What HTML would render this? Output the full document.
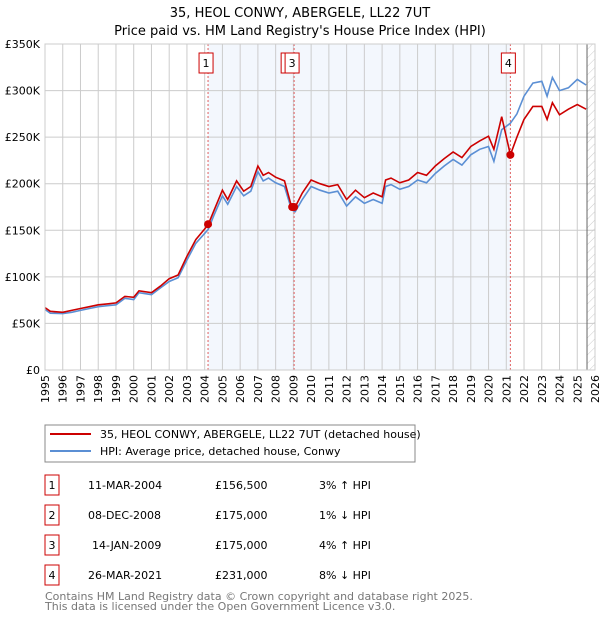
<!DOCTYPE html>
<html><head><meta charset="utf-8"><style>
body{margin:0;width:600px;height:620px;background:#fff;font-family:"DejaVu Sans","Liberation Sans",sans-serif;overflow:hidden}
svg text{font-family:"DejaVu Sans","Liberation Sans",sans-serif}
</style></head><body>
<svg id="c" width="600" height="620">
<defs><pattern id="hatch" width="6" height="6" patternUnits="userSpaceOnUse" patternTransform="rotate(45)"><line x1="0" y1="0" x2="0" y2="6" stroke="#ccc" stroke-width="1"/></pattern></defs>
<text x="300" y="17" text-anchor="middle" font-size="13">35, HEOL CONWY, ABERGELE, LL22 7UT</text>
<text x="300" y="35" text-anchor="middle" font-size="13">Price paid vs. HM Land Registry's House Price Index (HPI)</text>
<g id="plot"></g>
<rect x="45" y="425" width="370" height="37" fill="#fff" stroke="#888"/>
<line x1="50" y1="434" x2="91" y2="434" stroke="#cc0000" stroke-width="2"/>
<text x="100" y="438" font-size="11">35, HEOL CONWY, ABERGELE, LL22 7UT (detached house)</text>
<line x1="50" y1="451" x2="91" y2="451" stroke="#5b8fd4" stroke-width="2"/>
<text x="100" y="455" font-size="11">HPI: Average price, detached house, Conwy</text>
<g id="table" font-size="11"></g>
<text x="45" y="600" font-size="11" fill="#777">Contains HM Land Registry data © Crown copyright and database right 2025.</text>
<text x="45" y="610" font-size="11" fill="#777">This data is licensed under the Open Government Licence v3.0.</text>
</svg>
<script>
const years=[1995,1995.3,1996,1996.5,1997,1997.5,1998,1998.5,1999,1999.5,2000,2000.3,2001,2001.5,2002,2002.5,2003,2003.5,2004.2,2004.5,2005,2005.3,2005.8,2006.2,2006.6,2007,2007.3,2007.6,2008,2008.5,2008.9,2009.1,2009.5,2010,2010.5,2011,2011.5,2012,2012.5,2013,2013.5,2014,2014.2,2014.5,2015,2015.5,2016,2016.5,2017,2017.5,2018,2018.5,2019,2019.5,2020,2020.3,2020.74,2021.23,2021.6,2022,2022.5,2023,2023.3,2023.6,2024,2024.5,2025,2025.5];
const hpi=[65,61,60.5,62,64,66,68,69,70,77,75.6,83,81,88,95,99,118,136,151,165,187,178,197,187,192,213,203,206,201,197,172,170,183,197,193,190,192,176,186,179,183,179,197,199,194,197,204,201,211,219,226,220,231,237,240,224,258,265,275,294,308,310,294,314,300,303,312,306];
const prop=[67,63,62,64,66,68,70,71,72,79,78,85,83,90,98,102,122,140,156,170,193,183,203,192,197,219,209,212,207,203,175,175,190,204,200,197,199,183,193,185,190,186,204,206,201,204,212,209,219,227,234,228,240,246,251,237,272,231,250,269,283,283,269,287,274,280,285,280];
const saleYears=[2004.19,2008.93,2009.04,2021.23];
const salePrices=[156.5,175,175,231];
const saleLabels=["1","2","3","4"];
const yTicks=[0,50,100,150,200,250,300,350];
const xTicks=[];for(let y=1995;y<=2026;y++)xTicks.push(y);
const tDates=["11-MAR-2004","08-DEC-2008","14-JAN-2009","26-MAR-2021"];
const tPrices=["£156,500","£175,000","£175,000","£231,000"];
const tHpi=["3% ↑ HPI","1% ↓ HPI","4% ↑ HPI","8% ↓ HPI"];
const X0=45,X1=595,Y0=370,Y1=44;
const sx=y=>X0+(y-1995)*(X1-X0)/31;
const sy=v=>Y0-v*(Y0-Y1)/350;
const NS="http://www.w3.org/2000/svg";
const g=document.getElementById('plot');
function mk(t,a,p){const e=document.createElementNS(NS,t);for(const k in a)e.setAttribute(k,a[k]);(p||g).appendChild(e);return e;}
let e;
e=mk('rect',{x:sx(saleYears[0]),y:Y1,width:sx(saleYears[3])-sx(saleYears[0]),height:Y0-Y1,fill:'#eef3fc',opacity:0.7});


e=mk('rect',{x:sx(2025.55),y:Y1,width:X1-sx(2025.55),height:Y0-Y1,fill:'url(#hatch)'});


xTicks.forEach(y=>{e=mk('line',{x1:sx(y),x2:sx(y),y1:Y1,y2:Y0,stroke:'#ccc'});


e=mk('text',{x:0,y:0,'font-size':11,'text-anchor':'end',transform:`translate(${sx(y)+4},${Y0+5}) rotate(-90)`});e.textContent=y;

});
yTicks.forEach(v=>{e=mk('line',{x1:X0,x2:X1,y1:sy(v),y2:sy(v),stroke:'#ccc'});


e=mk('text',{x:40,y:sy(v)+4,'font-size':11,'text-anchor':'end'});e.textContent=v===0?'£0':'£'+v+'K';

});
e=mk('line',{x1:sx(2025.55),x2:sx(2025.55),y1:Y1,y2:Y0,stroke:'#666'});


[0,2,3].forEach(i=>{e=mk('line',{x1:sx(saleYears[i]),x2:sx(saleYears[i]),y1:Y1,y2:Y0,stroke:'#e06060','stroke-dasharray':'2,2'});

});
const pts=a=>a.map((v,i)=>sx(years[i]).toFixed(1)+','+sy(v).toFixed(1)).join(' ');
e=mk('polyline',{points:pts(hpi),fill:'none',stroke:'#5b8fd4','stroke-width':1.6});


e=mk('polyline',{points:pts(prop),fill:'none',stroke:'#cc0000','stroke-width':1.6});


saleYears.forEach((y,i)=>{e=mk('circle',{cx:sx(y),cy:sy(salePrices[i]),r:4,fill:'#cc0000'});

});
[0,1,2,3].forEach(i=>{const bx=sx(saleYears[i])-(i==1?11:9);
e=mk('rect',{x:bx,y:53,width:14,height:20,fill:'#fff',stroke:'#cc0000'});


e=mk('text',{x:bx+7,y:67,'font-size':11,'text-anchor':'middle'});e.textContent=saleLabels[i];

});
e=mk('rect',{x:X0,y:Y1,width:X1-X0,height:Y0-Y1,fill:'none',stroke:'#ccc'});


const tb=document.getElementById('table');
saleLabels.forEach((l,i)=>{const y=475+i*30;
e=mk('rect',{x:45,y:y,width:14,height:20,fill:'#fff',stroke:'#cc0000'},tb);


e=mk('text',{x:52,y:y+14,'text-anchor':'middle'},tb);e.textContent=l;


e=mk('text',{x:i==2?92:88,y:y+14},tb);e.textContent=tDates[i];


e=mk('text',{x:215,y:y+14},tb);e.textContent=tPrices[i];


e=mk('text',{x:319,y:y+14},tb);e.textContent=tHpi[i];

});
</script>
</body></html>
